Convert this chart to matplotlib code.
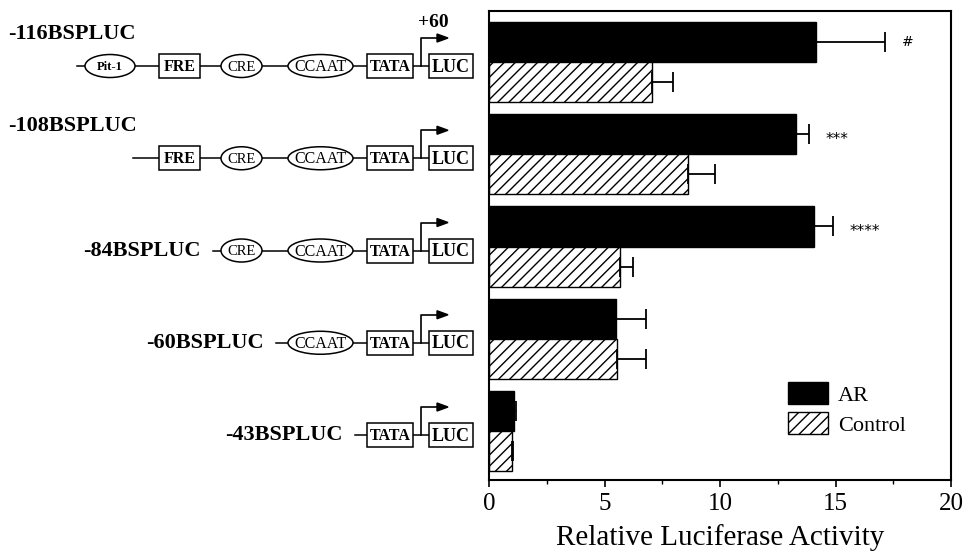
import matplotlib.pyplot as plt
from matplotlib.patches import Ellipse, Rectangle, Polygon

plt.rcParams['font.family'] = ['Liberation Serif', 'DejaVu Serif']

constructs = ['-116BSPLUC', '-108BSPLUC', '-84BSPLUC', '-60BSPLUC', '-43BSPLUC']
elements = [
    ['Pit-1', 'FRE', 'CRE', 'CCAAT', 'TATA', 'LUC'],
    ['FRE', 'CRE', 'CCAAT', 'TATA', 'LUC'],
    ['CRE', 'CCAAT', 'TATA', 'LUC'],
    ['CCAAT', 'TATA', 'LUC'],
    ['TATA', 'LUC'],
]
ar = [14.15, 13.3, 14.05, 5.5, 1.1]
ar_err = [3.0, 0.55, 0.85, 1.3, 0.05]
control = [7.05, 8.6, 5.65, 5.55, 1.0]
control_err = [0.9, 1.2, 0.6, 1.25, 0.05]
marks = ['#', '***', '****', '', '']

# shape, width(px), fontsize, weight
styles = {
    'Pit-1': ('ellipse', 50, 9, 'bold'),
    'FRE': ('box', 41, 11.5, 'bold'),
    'CRE': ('ellipse', 41, 10.5, 'normal'),
    'CCAAT': ('ellipse', 65, 11.5, 'normal'),
    'TATA': ('box', 46, 11.5, 'bold'),
    'LUC': ('box', 44, 13, 'bold'),
}
gap_before = {'Pit-1': 8, 'FRE': 24, 'CRE': 21, 'CCAAT': 26, 'TATA': 14, 'LUC': 16}
lead = [8, 26, 8, 12, 12]

W, H = 966, 556
fig = plt.figure(figsize=(W / 100, H / 100), dpi=100)

# diagram layer in pixel coordinates
dax = fig.add_axes([0, 0, 1, 1])
dax.set_xlim(0, W)
dax.set_ylim(H, 0)
dax.axis('off')

ax = fig.add_axes([489 / W, 1 - 480 / H, (951 - 489) / W, (480 - 11) / H])
h = 0.435
pos = list(range(len(constructs)))
y_ar = [p - h / 2 for p in pos]
y_ct = [p + h / 2 for p in pos]
zeros = [0] * len(pos)

ax.barh(y_ar, ar, height=h, color='black', edgecolor='black', label='AR')
ax.barh(y_ct, control, height=h, color='white', edgecolor='black', hatch='///',
        linewidth=1, label='Control')
ax.errorbar(ar, y_ar, xerr=[zeros, ar_err], fmt='none', ecolor='black',
            elinewidth=1.3, capsize=7.5, capthick=1.3)
ax.errorbar(control, y_ct, xerr=[zeros, control_err], fmt='none', ecolor='black',
            elinewidth=1.3, capsize=7.5, capthick=1.3)

for i, m in enumerate(marks):
    if m == '#':
        ax.text(ar[i] + ar_err[i] + 0.7, y_ar[i], m, fontsize=10, ha='left',
                va='center', fontstyle='italic', family=['DejaVu Sans'])
    elif m:
        ax.text(ar[i] + ar_err[i] + 0.7, y_ar[i] + 0.06, m, fontsize=11,
                ha='left', va='center', family=['DejaVu Sans'])

ax.set_xlim(0, 20)
ax.set_ylim(4.531, -0.553)
ax.set_yticks([])
ax.set_xticks([0, 5, 10, 15, 20])
ax.set_xticks([2.5, 7.5, 12.5, 17.5], minor=True)
ax.tick_params(axis='x', which='major', direction='out', length=5, width=1.2,
               labelsize=18, pad=4)
ax.tick_params(axis='x', which='minor', direction='out', length=3, width=1)
for s in ax.spines.values():
    s.set_linewidth(1.5)
ax.set_xlabel('Relative Luciferase Activity', fontsize=21, labelpad=7)

ax.legend(loc='upper left', bbox_to_anchor=(788 / W, 1 - 382 / H),
          bbox_transform=fig.transFigure, frameon=False, fontsize=16,
          handlelength=1.8, handleheight=1.15, handletextpad=0.45,
          labelspacing=0.3, borderpad=0, borderaxespad=0)

# promoter diagrams
luc_right = 473
for i, name in enumerate(constructs):
    yc = H - ax.transData.transform((0, pos[i]))[1] + 4
    x = luc_right
    spans = []
    for el in reversed(elements[i]):
        shape, w, fs, wt = styles[el]
        spans.append((el, x - w, x))
        x = x - w - gap_before[el]
    spans.reverse()
    start = spans[0][1] - lead[i]
    dax.plot([start, spans[-1][1]], [yc, yc], color='black', lw=1.1, zorder=1)
    for el, x0, x1 in spans:
        shape, w, fs, wt = styles[el]
        if shape == 'ellipse':
            p = Ellipse(((x0 + x1) / 2, yc), w, 23, facecolor='white',
                        edgecolor='black', lw=1.1, zorder=2)
        else:
            p = Rectangle((x0, yc - 12), w, 24, facecolor='white',
                          edgecolor='black', lw=1.1, zorder=2)
        dax.add_patch(p)
        dax.text((x0 + x1) / 2, yc + 1, el, fontsize=fs, fontweight=wt,
                 ha='center', va='center', zorder=3)
    # transcription start arrow
    ax0 = spans[-2][2] + 8
    top = yc - 28
    dax.plot([ax0, ax0, ax0 + 17], [yc, top, top], color='black', lw=1.2)
    dax.add_patch(Polygon([[ax0 + 16, top - 4], [ax0 + 16, top + 4], [ax0 + 27, top]],
                          closed=True, color='black'))
    if i == 0:
        dax.text(ax0 + 12, top - 16, '+60', fontsize=14, fontweight='bold',
                 ha='center', va='center')
    if i < 2:
        dax.text(8, yc - 32, name, fontsize=16, fontweight='bold',
                 ha='left', va='center')
    else:
        dax.text(start - 12, yc, name, fontsize=16, fontweight='bold',
                 ha='right', va='center')

fig.savefig('out.png', dpi=100)
